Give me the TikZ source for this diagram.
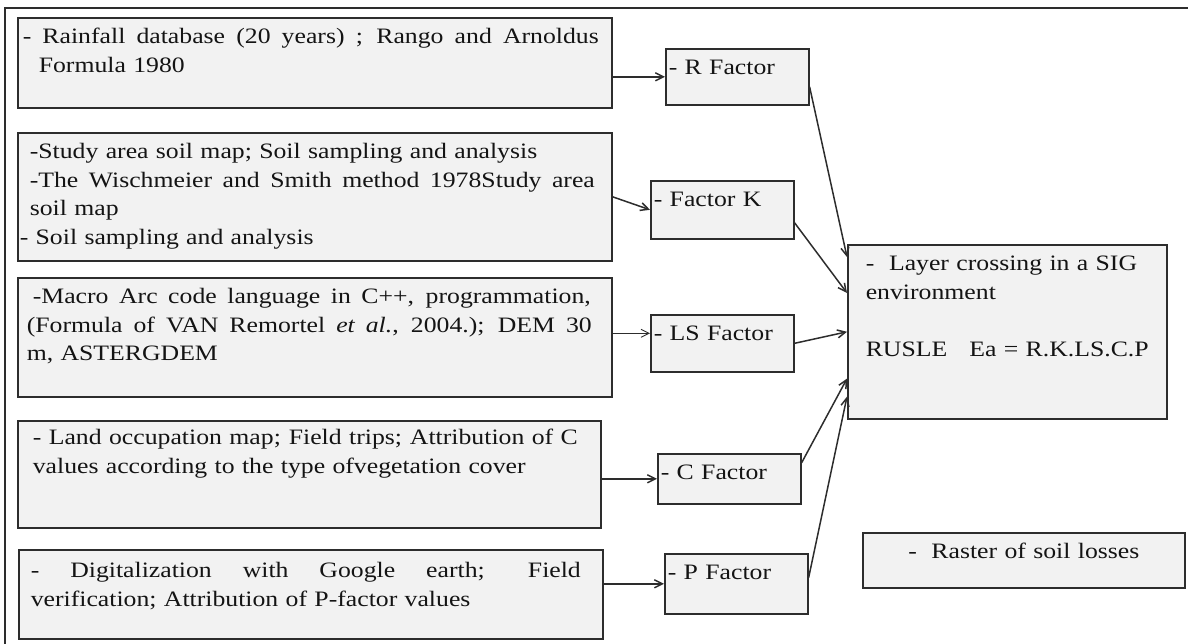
\documentclass[tikz,border=0pt]{standalone}
\usepackage{fontspec}
\setmainfont{Liberation Serif}[FakeStretch=1.17]
\definecolor{boxfill}{RGB}{242, 242, 242}
\definecolor{boxline}{RGB}{45, 45, 45}
\definecolor{inkgray}{RGB}{20, 20, 20}
\usetikzlibrary{arrows.meta}
\newcommand{\jline}[3]{\hspace*{#1}\makebox[#2][s]{\spaceskip=\fontdimen2\font plus 1fil\relax #3}}
\tikzset{
	srcbox/.style={rectangle, draw=boxline, fill=boxfill, line width=1.6pt, anchor=north west, inner xsep=0pt, inner ysep=0pt, align=left, text=inkgray, text height=26pt, font=\fontsize{22}{28.5}\selectfont},
	factorbox/.style={srcbox, inner xsep=3pt, text width=137pt},
	layerbox/.style={srcbox, inner xsep=18pt, text width=283pt},
	resultbox/.style={srcbox, align=center, text width=322pt},
	arrow/.style={-{Straight Barb[length=8pt, width=8pt]}, line width=1.5pt, draw=boxline},
	thinarrow/.style={arrow, line width=0.9pt},
	frameline/.style={line width=1.8pt, draw=boxline},
}
\begin{document}
\begin{tikzpicture}[x=1pt, y=-1pt]
		\useasboundingbox (0,0) rectangle (1188,643);
		\draw[frameline] (5,650) |- (1195,8);
		\node[srcbox, text width=594pt, text depth=64pt] (rain) at (17,17) {\jline{5pt}{576pt}{- Rainfall database (20 years) ; Rango and Arnoldus}\\\hspace*{21pt}Formula 1980};
		\node[srcbox, text width=594pt, text depth=102pt] (soil) at (17,132) {\hspace*{12pt}-Study area soil map; Soil sampling and analysis\\\jline{12pt}{565pt}{-The Wischmeier and Smith method 1978Study area}\\\hspace*{12pt}soil map\\\hspace*{2pt}- Soil sampling and analysis};
		\node[srcbox, text width=594pt, text depth=93pt] (dem) at (17,277) {\jline{15pt}{558pt}{-Macro Arc code language in C++, programmation,}\\\jline{9pt}{565pt}{(Formula of VAN Remortel \textit{et al.}, 2004.); DEM 30}\\\hspace*{9pt}m, ASTERGDEM};
		\node[srcbox, text width=583pt, text height=24pt, text depth=83pt] (landuse) at (17,420) {\jline{15pt}{545pt}{- Land occupation map; Field trips; Attribution of C}\\\hspace*{15pt}values according to the type ofvegetation cover};
		\node[srcbox, text width=584pt, text height=28pt, text depth=61pt] (dig) at (18,549) {\jline{12pt}{550pt}{- Digitalization with Google earth; Field}\\\hspace*{12pt}verification; Attribution of P-factor values};
		\node[factorbox, text depth=30pt] (rfac) at (665,48) {- R Factor};
		\node[factorbox, text depth=32pt] (kfac) at (650,180) {- Factor K};
		\node[factorbox, text depth=31pt] (lsfac) at (650,314) {- LS Factor};
		\node[factorbox, text depth=24pt] (cfac) at (657,453) {- C Factor};
		\node[factorbox, text depth=34pt] (pfac) at (664,553) {- P Factor};
		\node[layerbox, text depth=148pt] (crossing) at (847,244) {- \ Layer crossing in a SIG\\environment\\[28.5pt]RUSLE \ \ Ea = R.K.LS.C.P};
		\node[resultbox, text depth=29pt] (raster) at (862,532) {- \ Raster of soil losses};
		\coordinate (lsin) at ([yshift=10pt]lsfac.west);
		\draw[arrow] (rfac.west -| rain.east) -- (rfac.west);
		\draw[arrow] (soil.east) -- (kfac.west);
		\draw[thinarrow] (lsin -| dem.east) -- (lsin);
		\draw[arrow] (cfac.west -| landuse.east) -- (cfac.west);
		\draw[arrow] (pfac.west -| dig.east) -- (pfac.west);
		\draw[arrow] ([yshift=-10pt]rfac.east) -- ([yshift=-13pt]crossing.north west);
		\draw[arrow] ([yshift=-13pt]kfac.east) -- ([yshift=-49pt]crossing.north west);
		\draw[arrow] (lsfac.east) -- (crossing.west);
		\draw[arrow] ([yshift=16pt]cfac.east) -- ([yshift=41pt]crossing.south west);
		\draw[arrow] ([yshift=6pt]pfac.east) -- ([yshift=23pt]crossing.south west);
	\end{tikzpicture}
\end{document}
